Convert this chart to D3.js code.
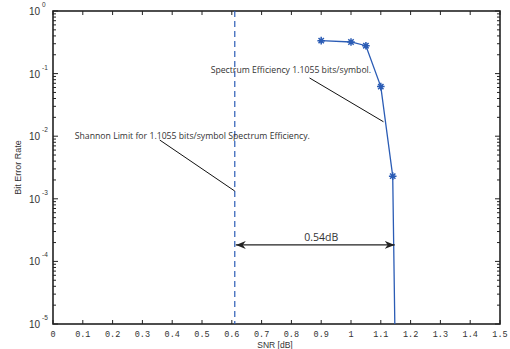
<!DOCTYPE html>
<html>
<head>
<meta charset="utf-8">
<script src="https://cdn.jsdelivr.net/npm/d3@7"></script>
<style>
  body { margin: 0; background: #fff; }
  svg { display: block; }
</style>
</head>
<body>
<svg id="chart" width="510" height="349"></svg>
<script>
// BER curve
var snr = [0.9, 1.0, 1.05, 1.1, 1.14, 1.15];
var ber = [0.336, 0.32, 0.279, 0.062, 0.0023, 1e-6];

var shannonLimit = 0.61;
var gapLabel = "0.54dB";

var xTicks = [0, 0.1, 0.2, 0.3, 0.4, 0.5, 0.6, 0.7, 0.8, 0.9, 1, 1.1, 1.2, 1.3, 1.4, 1.5];
var xTickLabels = ["0", "0.1", "0.2", "0.3", "0.4", "0.5", "0.6", "0.7", "0.8", "0.9", "1", "1.1", "1.2", "1.3", "1.4", "1.5"];
var yExps = [0, -1, -2, -3, -4, -5];

var noteSE = "Spectrum Efficiency 1.1055 bits/symbol.";
var noteShannon = "Shannon Limit for 1.1055 bits/symbol Spectrum Efficiency.";

const margin = {top: 11, right: 10, bottom: 25, left: 53};
var width = 510 - margin.left - margin.right;
var height = 349 - margin.top - margin.bottom;

var svg = d3.select("#chart");

var x = d3.scaleLinear().domain([0, 1.5]).range([margin.left, margin.left + width]);
var y = d3.scaleLog().domain([1e-5, 1]).range([margin.top + height, margin.top]);

var blue = "#2b5cb5";
var axisCol = "#222";
var textCol = "#333";

svg.append("defs").append("clipPath").attr("id", "clip")
  .append("rect")
  .attr("x", x(0)).attr("y", y(1))
  .attr("width", x(1.5) - x(0)).attr("height", y(1e-5) - y(1));

// ticks (inward, all four sides)
var g = svg.append("g").attr("stroke", axisCol).attr("stroke-width", 1);
xTicks.forEach(function(t){
  g.append("line").attr("x1", x(t)).attr("x2", x(t)).attr("y1", y(1e-5)).attr("y2", y(1e-5) - 4);
  g.append("line").attr("x1", x(t)).attr("x2", x(t)).attr("y1", y(1)).attr("y2", y(1) + 4);
});
yExps.forEach(function(e){
  var v = Math.pow(10, e);
  g.append("line").attr("x1", x(0)).attr("x2", x(0) + 5).attr("y1", y(v)).attr("y2", y(v));
  g.append("line").attr("x1", x(1.5)).attr("x2", x(1.5) - 5).attr("y1", y(v)).attr("y2", y(v));
  if (e > -5) {
    for (var k = 2; k < 10; k++) {
      var m = k * v / 10;
      g.append("line").attr("x1", x(0)).attr("x2", x(0) + 3).attr("y1", y(m)).attr("y2", y(m));
      g.append("line").attr("x1", x(1.5)).attr("x2", x(1.5) - 3).attr("y1", y(m)).attr("y2", y(m));
    }
  }
});

// box
svg.append("rect")
  .attr("x", x(0)).attr("y", y(1))
  .attr("width", x(1.5) - x(0)).attr("height", y(1e-5) - y(1))
  .attr("fill", "none").attr("stroke", axisCol).attr("stroke-width", 1.6);

// tick labels
svg.append("g").selectAll("text")
  .data(xTicks)
  .enter()
  .append("text")
    .attr("x", d => x(d))
    .attr("y", y(1e-5) + 13)
    .attr("text-anchor", "middle")
    .attr("font-family", "Liberation Mono, DejaVu Sans Mono, monospace")
    .attr("font-size", 8.5)
    .attr("fill", textCol)
    .text((d, i) => xTickLabels[i]);

var yl = svg.append("g").attr("font-family", "Liberation Sans, Arial, sans-serif").attr("fill", textCol);
yExps.forEach(function(e){
  var v = Math.pow(10, e);
  yl.append("text").attr("x", x(0) - 13).attr("y", y(v) + 4)
    .attr("text-anchor", "end").attr("font-size", 10).text("10");
  yl.append("text").attr("x", x(0) - 11).attr("y", y(v) - 4)
    .attr("text-anchor", "start").attr("font-size", 6.5).text(String(e));
});

// axis titles
svg.append("text")
  .attr("x", x(0.745)).attr("y", 348)
  .attr("text-anchor", "middle")
  .attr("font-family", "Liberation Sans, Arial, sans-serif")
  .attr("font-size", 8.5).attr("fill", textCol)
  .text("SNR [dB]");

svg.append("text")
  .attr("transform", "translate(21," + y(Math.pow(10, -2.5)) + ") rotate(-90)")
  .attr("text-anchor", "middle")
  .attr("font-family", "Liberation Sans, Arial, sans-serif")
  .attr("font-size", 9).attr("fill", textCol)
  .text("Bit Error Rate");

// Shannon limit
svg.append("line")
  .attr("x1", x(shannonLimit)).attr("x2", x(shannonLimit))
  .attr("y1", y(1)).attr("y2", y(1e-5))
  .attr("stroke", blue).attr("stroke-width", 1.2)
  .attr("stroke-dasharray", "6,4");

// BER curve
var pts = snr.map((s, i) => ({x: s, y: ber[i]}));
var line = d3.line().x(d => x(d.x)).y(d => y(d.y));

var curve = svg.append("g").attr("clip-path", "url(#clip)");
curve.append("path")
  .datum(pts)
  .attr("d", line)
  .attr("fill", "none")
  .attr("stroke", blue)
  .attr("stroke-width", 1.3);

var star = function(r){
  var a = r * 0.707;
  return "M0," + (-r) + "V" + r + "M" + (-r) + ",0H" + r +
         "M" + (-a) + "," + (-a) + "L" + a + "," + a + "M" + (-a) + "," + a + "L" + a + "," + (-a);
};
curve.selectAll(".mk")
  .data(pts)
  .enter()
  .append("path")
    .attr("class", "mk")
    .attr("transform", d => "translate(" + x(d.x) + "," + y(d.y) + ")")
    .attr("d", star(3.8))
    .attr("stroke", blue)
    .attr("stroke-width", 1.5)
    .attr("fill", "none");

// annotations
var ann = svg.append("g").attr("font-family", "Open Sans, Noto Sans, sans-serif").attr("font-size", 8.7).attr("fill", textCol);

ann.append("text").attr("x", x(0.529)).attr("y", y(0.102)).text(noteSE);
svg.append("line")
  .attr("x1", x(0.861)).attr("y1", y(0.0851))
  .attr("x2", x(1.109)).attr("y2", y(0.017))
  .attr("stroke", "#111").attr("stroke-width", 1);

ann.append("text").attr("x", x(0.073)).attr("y", y(0.0090)).text(noteShannon);
svg.append("line")
  .attr("x1", x(0.358)).attr("y1", y(0.0087))
  .attr("x2", x(shannonLimit)).attr("y2", y(0.00133))
  .attr("stroke", "#111").attr("stroke-width", 1);

// gap arrow
var defs = svg.select("defs");
defs.append("marker")
  .attr("id", "ah")
  .attr("viewBox", "0 0 10 8")
  .attr("refX", 10).attr("refY", 4)
  .attr("markerWidth", 10).attr("markerHeight", 8)
  .attr("markerUnits", "userSpaceOnUse")
  .attr("orient", "auto-start-reverse")
  .append("path")
    .attr("d", "M0,0 L10,4 L0,8 L3,4 Z")
    .attr("fill", "#222");

var ay = 1.83e-4;
svg.append("line")
  .attr("x1", x(shannonLimit) + 1).attr("x2", x(1.15) - 1)
  .attr("y1", y(ay)).attr("y2", y(ay))
  .attr("stroke", "#222").attr("stroke-width", 1.2)
  .attr("marker-start", "url(#ah)")
  .attr("marker-end", "url(#ah)");

svg.append("text")
  .attr("x", x((shannonLimit + 1.15) / 2 + 0.02)).attr("y", y(2.1e-4))
  .attr("text-anchor", "middle")
  .attr("font-family", "Open Sans, Noto Sans, sans-serif")
  .attr("font-size", 10.5).attr("fill", textCol)
  .text(gapLabel);
</script>
</body>
</html>
